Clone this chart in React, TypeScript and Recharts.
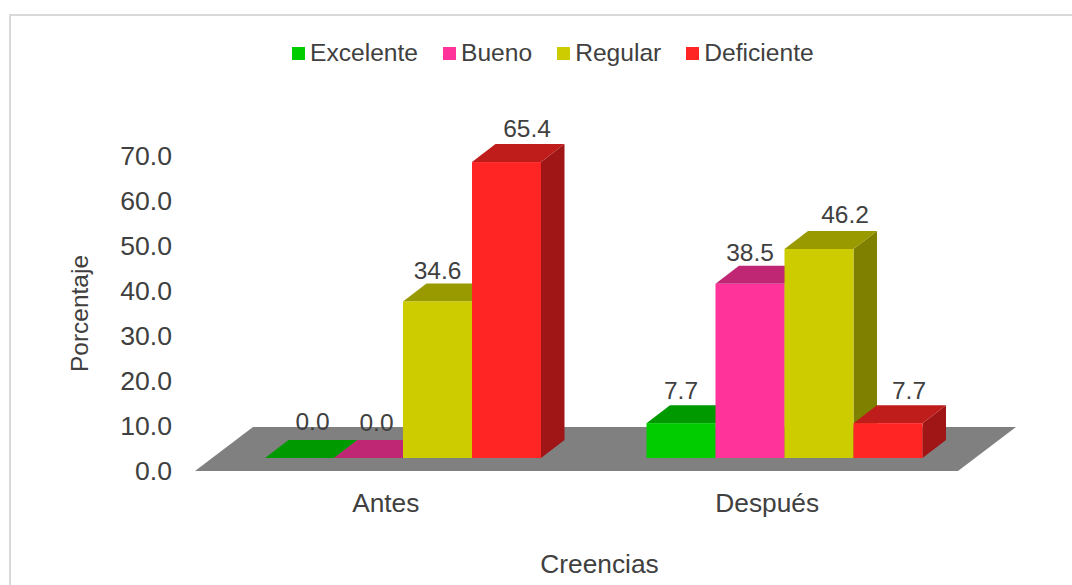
import { ComposedChart, Bar, Line, XAxis, YAxis, Legend, LabelList, ReferenceArea } from 'recharts';

const categories = ['Antes', 'Después'];
const seriesNames = ['Excelente', 'Bueno', 'Regular', 'Deficiente'];
const excelente = [0.0, 7.7];
const bueno = [0.0, 38.5];
const regular = [34.6, 46.2];
const deficiente = [65.4, 7.7];
const yTicks = [0, 10, 20, 30, 40, 50, 60, 70];

const seriesValues = [excelente, bueno, regular, deficiente];
const data = categories.map((category, i) => ({
  category,
  Excelente: seriesValues[0][i],
  Bueno: seriesValues[1][i],
  Regular: seriesValues[2][i],
  Deficiente: seriesValues[3][i],
}));

const frontColors = ['#00CC00', '#FF3399', '#CCCC00', '#FF2525'];
const topColors = ['#009900', '#BF2673', '#999900', '#BF1C1C'];
const sideColors = ['#008000', '#A02060', '#808000', '#A01515'];

const TEXT = '#404040';
const FONT = '"Liberation Sans", Arial, sans-serif';

// depth of the fake 3D
const DX = 23.5;
const DY = 18;
// bars sit to the right of the band centre, on the back half of the floor
const BAR_SHIFT = 18;
const FLOOR_DX = 58;

// label nudges by series, then category (the labels were moved by hand in the original)
const labelNudge = [
  [[13, -37], [0, -33]],
  [[8, -36], [0, -31]],
  [[0, -31], [26, -35]],
  [[20.5, -34], [21, -33]],
];

function barShape(s: number) {
  return (props: any) => {
    const { y, width, height } = props;
    const x = props.x + BAR_SHIFT;
    const top = `${x},${y} ${x + DX},${y - DY} ${x + width + DX},${y - DY} ${x + width},${y}`;
    const side = `${x + width},${y} ${x + width + DX},${y - DY} ${x + width + DX},${y + height - DY} ${x + width},${y + height}`;
    return (
      <g>
        <polygon points={side} fill={sideColors[s]} />
        <polygon points={top} fill={topColors[s]} />
        {height > 0 && <rect x={x} y={y} width={width} height={height} fill={frontColors[s]} />}
      </g>
    );
  };
}

function barLabel(s: number) {
  return (props: any) => {
    const { x, y, width, index, value } = props;
    const [dx, dy] = labelNudge[s][index];
    return (
      <text x={x + width / 2 + BAR_SHIFT + dx} y={y + dy} dy="0.35em" textAnchor="middle" fontSize={24.5} fontFamily={FONT} fill={TEXT}>
        {Number(value).toFixed(1)}
      </text>
    );
  };
}

function FloorShape(props: any) {
  const { x, y, width, height } = props;
  const pts = `${x},${y + height} ${x + width},${y + height} ${x + width + FLOOR_DX},${y} ${x + FLOOR_DX},${y}`;
  return <polygon points={pts} fill="#808080" />;
}

function LegendRow(props: any) {
  const items = props.payload.filter((item: any) => item.type !== 'none');
  return (
    <div style={{ display: 'flex', paddingLeft: 292, fontFamily: FONT, fontSize: 24.6, color: TEXT, lineHeight: '28px' }}>
      {items.map((item: any) => (
        <div key={item.value} style={{ display: 'flex', alignItems: 'center', marginRight: 25 }}>
          <span style={{ width: 13, height: 13, marginRight: 5, background: item.color }} />
          <span>{item.value}</span>
        </div>
      ))}
    </div>
  );
}

export default function App() {
  return (
    <div style={{ position: 'absolute', left: 0, top: 0, width: 1072, height: 585, overflow: 'hidden', background: '#fff' }}>
      <div style={{ position: 'absolute', left: 9, top: 14, width: 1063, height: 571, borderTop: '2px solid #D9D9D9', borderLeft: '2px solid #D9D9D9', boxSizing: 'border-box' }} />
      <div style={{ position: 'absolute', left: 0, top: 0 }}>
        <ComposedChart
          width={1072}
          height={585}
          data={data}
          barGap={0}
          barCategoryGap={52}
          margin={{ top: 116, right: 114, left: 0, bottom: 0 }}
        >
          <XAxis
            dataKey="category"
            height={114}
            axisLine={false}
            tickLine={false}
            tickMargin={16}
            tick={{ fill: TEXT, fontSize: 26.3, fontFamily: FONT }}
            label={{ value: 'Creencias', position: 'insideBottom', offset: 12, dx: 23, fill: TEXT, fontSize: 26.3, fontFamily: FONT }}
          />
          <YAxis
            width={195}
            domain={[0, 70]}
            ticks={yTicks}
            interval={0}
            axisLine={false}
            tickLine={false}
            tickMargin={17}
            tickFormatter={(v: number) => v.toFixed(1)}
            tick={{ fill: TEXT, fontSize: 26.6, fontFamily: FONT }}
            label={{ value: 'Porcentaje', angle: -90, position: 'insideLeft', offset: 79, textAnchor: 'middle', fill: TEXT, fontSize: 24.5, fontFamily: FONT }}
          />
          {/* bars stand 13px behind the front edge of the floor */}
          <YAxis yAxisId="bars" hide domain={[-2.873, 66.74]} />
          <Legend verticalAlign="top" height={40} content={LegendRow} itemSorter={null} wrapperStyle={{ top: 39, left: 0, width: 1072 }} />
          <ReferenceArea y1={0} y2={9.78} shape={FloorShape} ifOverflow="visible" />
          {/* invisible, only keeps the visible axis attached to a series */}
          <Line dataKey="Excelente" stroke="none" dot={false} legendType="none" isAnimationActive={false} />
          {seriesNames.map((name, s) => (
            <Bar
              key={name}
              yAxisId="bars"
              dataKey={name}
              fill={frontColors[s]}
              shape={barShape(s)}
              isAnimationActive={false}
            >
              <LabelList dataKey={name} content={barLabel(s)} />
            </Bar>
          ))}
        </ComposedChart>
      </div>
    </div>
  );
}
